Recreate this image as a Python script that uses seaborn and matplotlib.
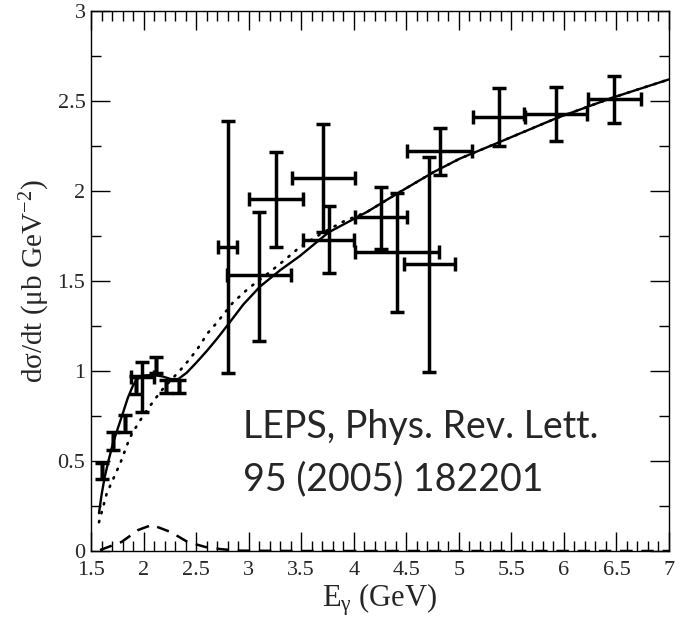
import matplotlib
matplotlib.use("Agg")
import matplotlib.pyplot as plt
from matplotlib.ticker import MultipleLocator
import seaborn as sns
import pandas as pd
import numpy as np

# ---- model curves ----
solid_E = [1.576, 1.60, 1.63, 1.67, 1.71, 1.76, 1.80, 1.85, 1.90, 1.94, 2.00, 2.09, 2.18, 2.26, 2.33,
           2.41, 2.50, 2.60, 2.70, 2.80, 2.95, 3.11, 3.30, 3.49, 3.76, 4.13, 4.44, 4.76, 5.01, 5.38,
           5.93, 6.47, 7.0]
solid_y = [0.21, 0.31, 0.41, 0.51, 0.60, 0.69, 0.76, 0.85, 0.92, 0.955, 0.975, 0.978, 0.97, 0.955, 0.955,
           0.99, 1.045, 1.11, 1.18, 1.255, 1.37, 1.47, 1.56, 1.64, 1.77, 1.885, 1.995, 2.105, 2.18, 2.27,
           2.405, 2.52, 2.62]

dotted_E = [1.576, 1.65, 1.78, 1.87, 1.95, 2.03, 2.11, 2.19, 2.27, 2.35, 2.43, 2.51, 2.61, 2.70, 2.85,
            3.00, 3.18, 3.35, 3.49, 3.71, 3.90, 4.13, 4.44, 4.76, 5.01, 5.38, 5.93, 6.47, 7.0]
dotted_y = [0.16, 0.32, 0.49, 0.63, 0.71, 0.78, 0.845, 0.905, 0.955, 1.005, 1.06, 1.12, 1.21, 1.27, 1.38,
            1.46, 1.54, 1.62, 1.69, 1.77, 1.83, 1.885, 1.995, 2.105, 2.18, 2.27, 2.405, 2.52, 2.62]

dashed_E = [1.586, 1.79, 1.95, 2.08, 2.26, 2.42, 2.59, 2.74, 2.90, 3.5, 7.0]
dashed_y = [0.005, 0.05, 0.117, 0.145, 0.105, 0.05, 0.022, 0.01, 0.002, 0.0, 0.0]

# ---- LEPS data ----
data_E    = [1.60, 1.71, 1.82, 1.93, 1.99, 2.12, 2.21, 2.34, 2.80, 3.10, 3.26, 3.71, 3.76, 4.26, 4.41,
             4.72, 4.82, 5.38, 5.92, 6.48]
data_y    = [0.445, 0.61, 0.71, 0.92, 0.965, 1.035, 0.915, 0.915, 1.69, 1.535, 1.955, 2.07, 1.73, 1.855, 1.66,
             1.595, 2.22, 2.41, 2.43, 2.51]
data_xerr = [0, 0, 0, 0, 0.11, 0, 0, 0, 0.09, 0.305, 0.26, 0.30, 0.245, 0.25, 0.40,
             0.245, 0.31, 0.245, 0.30, 0.255]
data_ylo  = [0.045, 0.05, 0.05, 0.05, 0.195, 0.045, 0.035, 0.035, 0.70, 0.37, 0.265, 0.30, 0.185, 0.175, 0.33,
             0.60, 0.13, 0.16, 0.15, 0.13]
data_yhi  = [0.045, 0.05, 0.045, 0.05, 0.085, 0.045, 0.035, 0.035, 0.70, 0.35, 0.26, 0.30, 0.185, 0.165, 0.33,
             0.595, 0.13, 0.16, 0.15, 0.13]

xticks = [1.5, 2, 2.5, 3, 3.5, 4, 4.5, 5, 5.5, 6, 6.5, 7]
xticklabels = ["1.5", "2", "2.5", "3", "3.5", "4", "4.5", "5", "5.5", "6", "6.5", "7"]
yticks = [0, 0.5, 1, 1.5, 2, 2.5, 3]
yticklabels = ["0", "0.5", "1", "1.5", "2", "2.5", "3"]

note_line1 = "LEPS, Phys. Rev. Lett."
note_line2 = "95 (2005) 182201"

sns.set_theme(style="ticks")
plt.rcParams['font.family'] = ['Liberation Serif', 'DejaVu Serif']
plt.rcParams['mathtext.fontset'] = 'custom'
plt.rcParams['mathtext.rm'] = 'Liberation Serif'
plt.rcParams['mathtext.it'] = 'Liberation Serif:italic'

fig = plt.figure(figsize=(6.75, 6.17), dpi=100)
ax = fig.add_axes([91/675, 1 - 551/617, 578/675, 540/617])

df_s = pd.DataFrame({"E": solid_E, "y": solid_y})
df_d = pd.DataFrame({"E": dotted_E, "y": dotted_y})
df_a = pd.DataFrame({"E": dashed_E, "y": dashed_y})

sns.lineplot(data=df_s, x="E", y="y", ax=ax, color="black", lw=1.7, sort=False, zorder=3)
sns.lineplot(data=df_d, x="E", y="y", ax=ax, color="black", lw=1.9, sort=False, zorder=2)
ax.lines[-1].set_linestyle((0, (0.5, 3.0)))
ax.lines[-1].set_dash_capstyle("round")
sns.lineplot(data=df_a, x="E", y="y", ax=ax, color="black", lw=1.8, sort=False, zorder=2)
ax.lines[-1].set_linestyle((0, (5, 3.5)))

ax.errorbar(data_E, data_y, xerr=data_xerr, yerr=[data_ylo, data_yhi], fmt="none",
            ecolor="black", elinewidth=2.5, capsize=5, capthick=2.5, zorder=4)

ax.set_xlim(1.5, 7)
ax.set_ylim(0, 3)
ax.set_xticks(xticks)
ax.set_xticklabels(xticklabels)
ax.set_yticks(yticks)
ax.set_yticklabels(yticklabels)
ax.xaxis.set_minor_locator(MultipleLocator(0.1))
ax.yaxis.set_minor_locator(MultipleLocator(0.25))
ax.tick_params(which="both", direction="in", top=True, right=True, labelsize=16, width=1, color="black")
ax.tick_params(which="major", length=14)
ax.tick_params(which="minor", length=7)
ax.tick_params(axis="x", pad=7)
ax.tick_params(axis="y", pad=4)
for s in ax.spines.values():
    s.set_visible(True)
    s.set_color("black")
    s.set_linewidth(1.0)

ax.set_xlabel(r"E$_{\mathrm{γ}}$ (GeV)", fontsize=22, labelpad=1)
ax.set_ylabel(r"dσ/dt (μb GeV$^{-2}$)", fontsize=21)
ax.yaxis.set_label_coords(-0.068, 0.5)

ax.text(2.948, 0.628, note_line1, fontsize=27, family=["Lato", "DejaVu Sans"], va="baseline", ha="left")
ax.text(2.948, 0.339, note_line2, fontsize=27, family=["Lato", "DejaVu Sans"], va="baseline", ha="left")

fig.savefig("out.png", dpi=100)
